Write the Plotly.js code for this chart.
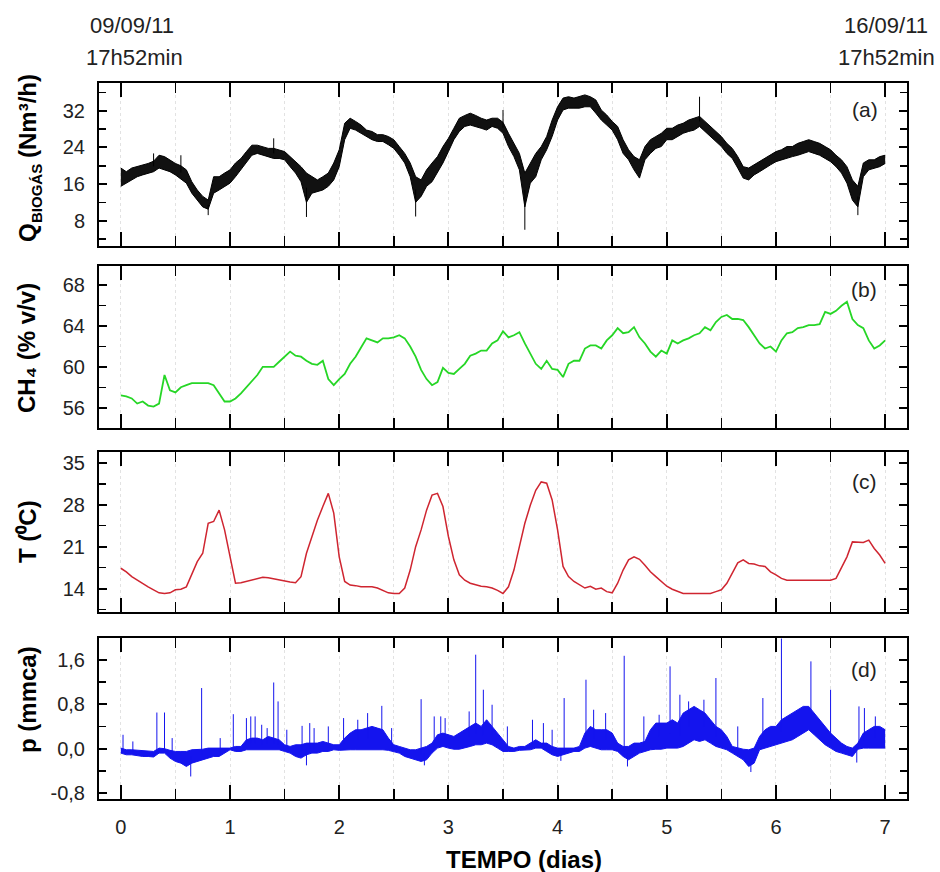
<!DOCTYPE html>
<html>
<head>
<meta charset="utf-8">
<script src="https://cdn.plot.ly/plotly-3.0.1.min.js"></script>
<style>
  html, body { margin: 0; padding: 0; background: #fff; }
  #chart { width: 940px; height: 872px; }
</style>
</head>
<body>
<div id="chart"></div>
<script>
// Sampling grid: one reading every 0.05 day over the 7-day campaign
const TIME_STEP = 0.05;
const TIME = Array.from({ length: 141 }, (_, i) => +(i * TIME_STEP).toFixed(2));

// (a) biogas flow, Nm3/h – upper and lower edge of the noisy signal
const Q_HI = [19.5,18.7,19.5,19.8,20.2,20.5,21.0,22.3,22.0,21.3,20.5,20.0,19.1,16.5,14.7,13.3,12.5,17.6,17.6,18.4,
  19.1,20.6,21.6,23.1,24.5,24.5,24.2,23.8,23.8,23.5,23.1,22.0,20.9,19.8,18.4,17.6,16.9,17.6,18.4,20.6,
  23.5,29.3,30.4,29.7,28.9,27.8,27.5,26.8,26.8,26.4,25.7,24.2,22.7,20.6,17.6,16.9,19.1,20.6,22.0,24.2,
  26.0,28.2,30.4,31.0,31.5,31.0,30.4,30.0,30.4,30.4,29.5,27.1,24.9,22.7,18.4,20.6,22.7,24.2,26.4,30.0,
  32.9,34.8,35.1,34.8,35.1,35.5,35.1,34.4,32.2,31.1,29.7,28.6,25.7,23.5,22.0,21.3,24.2,25.7,26.4,27.1,
  28.2,28.2,28.9,29.3,30.0,30.4,30.8,29.7,28.6,27.5,26.4,24.9,23.8,22.0,19.8,19.5,20.2,20.9,21.6,22.3,
  23.1,23.5,24.2,24.2,24.9,25.3,25.7,25.3,24.9,24.2,23.5,22.3,21.3,19.8,16.9,15.5,20.6,21.3,21.3,22.0,22.3];
const Q_LO = [15.5,16.2,16.9,17.6,18.0,18.4,18.7,19.5,19.1,18.7,18.0,17.0,16.2,14.0,12.5,11.0,10.5,14.0,14.7,15.5,
  16.2,17.6,19.1,20.6,22.3,22.7,22.3,22.0,21.6,21.6,21.3,19.8,18.4,16.5,12.0,14.0,14.4,14.7,15.5,16.9,
  19.8,25.7,28.2,27.8,27.1,26.4,25.7,25.3,25.3,24.6,23.8,22.3,20.6,17.6,12.0,13.3,15.5,16.5,18.4,20.6,
  23.1,25.7,27.5,28.6,28.9,28.6,28.2,27.8,28.6,28.2,27.1,24.2,22.0,19.1,11.0,16.2,17.6,21.3,23.5,26.4,
  30.0,32.2,32.6,32.6,32.6,32.9,32.9,31.5,30.0,28.9,27.8,25.7,22.7,21.3,19.1,17.3,21.3,22.7,23.8,24.2,
  25.7,25.7,26.4,27.1,27.5,27.8,28.6,27.5,26.4,25.3,24.2,22.7,21.6,19.5,17.3,16.9,18.0,18.7,19.5,20.2,
  20.9,21.3,21.6,22.0,22.3,22.7,23.1,22.7,22.3,21.6,20.9,19.8,18.4,16.2,12.5,11.0,17.6,19.1,19.5,19.8,20.5];
// (a) isolated excursions: time (days) and extreme value
const Q_SPIKE_T = [0.30, 0.55, 0.80, 1.40, 1.70, 2.70, 3.50, 3.70, 5.30, 6.75];
const Q_SPIKE_V = [22.7, 22.3, 9.2, 26.0, 8.8, 8.9, 32.2, 6.0, 35.1, 9.2];

// (b) methane content, % v/v
const CH4 = [57.2,57.1,56.9,56.4,56.6,56.2,56.1,56.4,59.2,57.7,57.5,58.0,58.2,58.4,58.4,58.4,58.4,58.2,57.4,56.6,
  56.6,56.9,57.4,58.0,58.7,59.2,60.0,60.0,60.0,60.5,61.0,61.5,61.1,61.0,60.6,60.3,60.2,60.6,58.8,58.2,
  58.8,59.3,60.3,61.0,61.9,62.8,62.6,62.4,62.8,62.8,62.9,63.1,62.8,62.0,61.0,59.7,58.8,58.2,58.5,59.9,
  59.4,59.3,59.8,60.3,61.1,61.3,61.6,61.6,62.3,62.6,63.5,62.9,63.1,63.4,62.3,61.3,60.3,59.8,60.6,59.8,
  59.7,59.0,60.3,60.6,60.6,61.8,62.1,62.1,61.8,62.6,63.1,63.8,63.3,63.4,63.9,62.9,62.3,61.5,61.0,61.6,
  61.3,62.6,62.3,62.6,62.8,63.1,63.3,63.9,63.6,64.4,64.9,65.1,64.7,64.7,64.6,63.9,63.1,62.3,61.8,62.0,
  61.5,62.6,63.3,63.4,63.8,63.9,64.1,64.1,64.2,65.4,65.2,65.5,66.0,66.4,64.7,64.1,63.8,62.6,61.8,62.1,62.6];

// (c) temperature, °C
const TEMP = [17.4,16.8,16.0,15.4,14.9,14.3,13.8,13.3,13.2,13.3,13.8,13.9,14.3,16.3,18.5,19.9,24.9,25.2,27.1,23.8,
  19.3,14.9,15.0,15.2,15.4,15.6,15.9,15.8,15.6,15.4,15.3,15.1,15.0,16.0,19.9,22.7,25.4,27.7,29.9,26.6,
  19.3,15.2,14.6,14.5,14.3,14.3,14.3,14.1,13.7,13.3,13.2,13.2,14.1,17.1,21.0,23.8,27.1,29.6,29.9,27.7,
  22.7,18.8,16.3,15.4,14.9,14.6,14.4,14.3,14.1,13.7,13.2,14.3,17.1,21.0,24.9,27.9,30.4,31.8,31.6,28.8,
  23.8,17.7,16.0,15.2,14.6,14.1,14.4,13.9,14.1,13.5,13.3,14.9,17.1,18.8,19.3,18.9,17.9,16.8,16.0,15.2,
  14.4,13.9,13.5,13.2,13.2,13.2,13.2,13.1,13.2,13.5,13.8,14.9,16.6,18.3,18.8,18.2,18.1,17.8,17.7,16.8,
  16.3,15.7,15.4,15.4,15.4,15.3,15.3,15.3,15.3,15.4,15.4,15.7,17.4,19.3,21.8,21.7,21.7,22.1,20.7,19.6,18.2];

// (d) pressure, mm water column – upper and lower edge of the dense signal
const P_HI = [0.01,-0.02,-0.02,-0.03,-0.04,-0.05,-0.05,0.01,0.00,-0.03,-0.05,-0.05,-0.05,-0.02,-0.02,-0.01,0.01,0.01,0.01,0.01,
  0.01,0.04,0.04,0.16,0.19,0.19,0.16,0.22,0.19,0.16,0.07,0.04,0.07,0.07,0.10,0.10,0.10,0.13,0.10,0.07,
  0.07,0.19,0.28,0.34,0.34,0.37,0.40,0.37,0.34,0.19,0.07,0.04,0.01,-0.02,-0.02,0.01,0.04,0.10,0.25,0.28,
  0.25,0.22,0.28,0.34,0.40,0.46,0.40,0.52,0.40,0.28,0.16,0.04,0.01,0.04,0.04,0.10,0.16,0.10,0.10,0.04,
  0.01,0.01,0.01,0.01,0.04,0.28,0.40,0.34,0.34,0.34,0.28,0.10,0.04,0.04,0.10,0.10,0.13,0.34,0.46,0.46,
  0.46,0.52,0.46,0.64,0.70,0.76,0.70,0.64,0.52,0.40,0.34,0.22,0.04,0.01,-0.01,-0.02,0.01,0.22,0.34,0.40,
  0.40,0.52,0.58,0.64,0.70,0.76,0.76,0.64,0.52,0.40,0.28,0.19,0.10,0.04,0.01,0.10,0.28,0.34,0.40,0.40,0.34];
const P_LO = [-0.08,-0.11,-0.11,-0.13,-0.14,-0.14,-0.15,-0.08,-0.08,-0.17,-0.23,-0.26,-0.32,-0.26,-0.23,-0.20,-0.17,-0.14,-0.14,-0.08,
  -0.02,-0.05,-0.05,-0.02,-0.02,-0.02,-0.02,-0.02,-0.02,-0.02,-0.05,-0.08,-0.14,-0.17,-0.11,-0.08,-0.08,-0.05,-0.05,-0.02,
  -0.03,-0.02,-0.02,-0.02,-0.02,-0.02,-0.01,-0.02,-0.02,-0.03,-0.05,-0.08,-0.14,-0.17,-0.20,-0.23,-0.20,-0.08,0.01,0.04,
  0.01,-0.01,-0.01,0.01,0.04,0.07,0.07,0.10,0.07,0.01,-0.05,-0.05,-0.05,-0.03,-0.02,-0.02,0.01,0.01,-0.05,-0.11,
  -0.14,-0.11,-0.07,-0.05,-0.05,0.01,0.04,0.01,-0.02,-0.02,-0.02,-0.05,-0.14,-0.20,-0.14,-0.08,-0.05,-0.02,-0.01,-0.01,
  0.01,0.01,0.01,0.04,0.10,0.16,0.13,0.16,0.10,0.04,0.01,-0.02,-0.08,-0.14,-0.20,-0.32,-0.26,-0.02,0.01,0.04,
  0.07,0.10,0.13,0.16,0.22,0.28,0.34,0.25,0.16,0.07,0.01,-0.05,-0.08,-0.11,-0.14,-0.01,0.01,0.01,0.01,0.01,0.01];
// (d) isolated pressure peaks: time (days) and peak value
const P_SPIKE_T = [0.02,0.11,0.33,0.40,0.47,0.64,0.74,0.91,1.03,1.15,1.19,1.23,1.29,1.34,1.40,1.44,1.52,1.66,1.70,1.73,
  1.77,1.90,2.04,2.17,2.26,2.39,2.48,2.75,2.78,2.87,2.93,2.97,3.19,3.25,3.32,3.40,3.54,3.77,3.87,3.95,
  4.03,4.06,4.26,4.33,4.44,4.61,4.64,4.79,4.93,5.03,5.12,5.20,5.34,5.45,5.65,5.77,5.88,6.05,6.32,6.50,
  6.74,6.76,6.81,6.91];
const P_SPIKE_V = [0.25,0.13,0.65,0.65,0.19,-0.50,1.09,0.19,0.62,0.55,0.58,0.58,0.43,0.37,1.19,0.85,0.34,0.41,-0.30,0.46,
  0.37,0.40,0.55,0.52,0.64,0.77,0.37,0.89,-0.30,0.58,0.58,0.55,0.67,1.69,1.06,0.79,0.40,0.52,0.46,0.34,
  -0.22,0.91,1.24,0.70,0.64,1.67,-0.32,0.58,0.61,1.48,0.97,0.85,0.88,1.27,0.40,-0.42,0.91,1.98,1.57,1.06,
  -0.25,0.76,0.73,0.58];

// Axis tick labels
const X_TICKS = [0, 1, 2, 3, 4, 5, 6, 7];
const Q_TICKS = [8, 16, 24, 32];
const CH4_TICKS = [56, 60, 64, 68];
const T_TICKS = [14, 21, 28, 35];
const P_TICKS = [-0.8, 0, 0.8, 1.6];
const P_TICK_TEXT = ['-0,8', '0,0', '0,8', '1,6'];

// ---------------------------------------------------------------------------
const W = 940, H = 872;
const px = v => v / W;
const py = v => 1 - v / H;
const FONT = 'Liberation Sans, Arial, sans-serif';
const X_DOM = [px(99), px(907)];
const GRID = '#e2e2e2';

// vertical segment for each excursion, starting at the middle of the local band
function spikes(ts, vs, hi, lo) {
  const x = [], y = [];
  ts.forEach((t, k) => {
    const i = Math.round(t / TIME_STEP);
    x.push(t, t, null);
    y.push((hi[i] + lo[i]) / 2, vs[k], null);
  });
  return { x, y };
}

const qs = spikes(Q_SPIKE_T, Q_SPIKE_V, Q_HI, Q_LO);
const ps = spikes(P_SPIKE_T, P_SPIKE_V, P_HI, P_LO);
const BLUE = '#1414ee';

const traces = [
  { x: TIME, y: Q_LO, xaxis: 'x', yaxis: 'y', mode: 'lines', line: { color: '#000', width: 1 } },
  { x: TIME, y: Q_HI, xaxis: 'x', yaxis: 'y', mode: 'lines', line: { color: '#000', width: 1 },
    fill: 'tonexty', fillcolor: '#111' },
  { x: qs.x, y: qs.y, xaxis: 'x', yaxis: 'y', mode: 'lines', line: { color: '#000', width: 1 } },

  { x: TIME, y: CH4, xaxis: 'x2', yaxis: 'y2', mode: 'lines', line: { color: '#26d626', width: 1.8 } },

  { x: TIME, y: TEMP, xaxis: 'x3', yaxis: 'y3', mode: 'lines', line: { color: '#cf2530', width: 1.5 } },

  { x: TIME, y: P_LO, xaxis: 'x4', yaxis: 'y4', mode: 'lines', line: { color: BLUE, width: 1 } },
  { x: TIME, y: P_HI, xaxis: 'x4', yaxis: 'y4', mode: 'lines', line: { color: BLUE, width: 1 },
    fill: 'tonexty', fillcolor: BLUE },
  { x: ps.x, y: ps.y, xaxis: 'x4', yaxis: 'y4', mode: 'lines', line: { color: BLUE, width: 1 } }
];

function xAxis(anchor, labels) {
  return {
    domain: X_DOM, anchor, range: [-0.2, 7.2], matches: anchor === 'y' ? undefined : 'x',
    tickmode: 'array', tickvals: X_TICKS, ticktext: X_TICKS.map(String),
    ticks: 'inside', ticklen: 14, tickwidth: 2, tickcolor: '#000',
    showline: true, linewidth: 2, linecolor: '#000', mirror: 'allticks',
    showgrid: true, gridcolor: GRID, griddash: 'dot', gridwidth: 1,
    minor: { dtick: 0.5, tick0: 0, ticks: 'inside', ticklen: 10, tickwidth: 1.5, tickcolor: '#000',
             showgrid: true, gridcolor: GRID, griddash: 'dot', gridwidth: 1 },
    zeroline: false, showticklabels: labels, ticklabelstandoff: 9,
    tickfont: { family: FONT, size: 20, color: '#222' }
  };
}

function yAxis(anchor, top, bottom, range, vals, text, minorStep) {
  return {
    domain: [py(bottom), py(top)], anchor, range,
    tickmode: 'array', tickvals: vals, ticktext: text,
    ticks: 'inside', ticklen: 8, tickwidth: 2, tickcolor: '#000',
    showline: true, linewidth: 2, linecolor: '#000', mirror: 'allticks',
    minor: { dtick: minorStep, tick0: vals[0], ticks: 'inside', ticklen: 7, tickwidth: 1.5, tickcolor: '#000' },
    showgrid: false, zeroline: false, ticklabelstandoff: 8,
    tickfont: { family: FONT, size: 20, color: '#222' }
  };
}

function note(text, x, y, size, extra) {
  return Object.assign({ text, x: px(x), y: py(y), xref: 'paper', yref: 'paper',
    xanchor: 'center', yanchor: 'middle', showarrow: false,
    font: { family: FONT, size, color: '#222' } }, extra || {});
}
const BOLD = { family: FONT, size: 24, color: '#000', weight: 'bold' };
const BOLD_SUB = { family: FONT, size: 15, color: '#000', weight: 'bold' };
const V = { textangle: -90, font: BOLD };

const layout = {
  width: W, height: H, margin: { l: 0, r: 0, t: 0, b: 0 },
  paper_bgcolor: '#fff', plot_bgcolor: '#fff', showlegend: false, separators: ',.',
  xaxis: xAxis('y', false),
  xaxis2: xAxis('y2', false),
  xaxis3: xAxis('y3', false),
  xaxis4: xAxis('y4', true),
  yaxis: yAxis('x', 83, 246, [2.45, 38.1], Q_TICKS, Q_TICKS.map(String), 4),
  yaxis2: yAxis('x2', 266, 428, [54, 69.9], CH4_TICKS, CH4_TICKS.map(String), 2),
  yaxis3: yAxis('x3', 452, 612, [10.1, 36.8], T_TICKS, T_TICKS.map(String), 3.5),
  yaxis4: yAxis('x4', 638, 799, [-0.905, 1.99], P_TICKS, P_TICK_TEXT, 0.4),
  annotations: [
    note('09/09/11', 132, 25, 22),
    note('17h52min', 134, 58, 22),
    note('16/09/11', 886, 25, 22),
    note('17h52min', 886, 58, 22),
    note('(a)', 865, 109, 21),
    note('(b)', 864, 289, 21),
    note('(c)', 864, 481, 21),
    note('(d)', 864, 669, 21),
    // vertical axis titles; the flow title is set in three parts so its subscript can sit lower
    note('Q', 28, 233, 24, V),
    note('BIOGÁS', 37, 194, 15, { textangle: -90, font: BOLD_SUB }),
    note('(Nm³/h)', 28, 116, 24, V),
    note('CH₄ (% v/v)', 27, 348, 24, V),
    note('T (⁰C)', 27, 532, 24, V),
    note('p (mmca)', 27, 700, 24, V),
    note('TEMPO (dias)', 524, 859, 24, { font: BOLD })
  ]
};

Plotly.newPlot('chart', traces, layout, { staticPlot: true, displayModeBar: false });
</script>
</body>
</html>
